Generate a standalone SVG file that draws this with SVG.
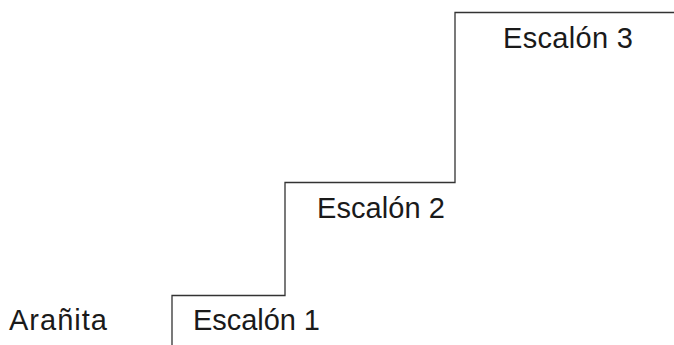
<svg xmlns="http://www.w3.org/2000/svg" width="674" height="345" viewBox="0 0 674 345">
<style>
text{font-family:"Liberation Sans",Arial,sans-serif;font-size:29px;fill:#1a1a1a}
.stair{fill:none;stroke:#333;stroke-width:1.3}
</style>
<rect width="674" height="345" fill="#fff"/>
<g id="connectors">
<path class="stair" d="M172 345 V295.5 H285 V182.5 H455 V12.5 H674"/>
</g>
<g id="aranita"><text x="9" y="330" textLength="98">Arañita</text></g>
<g id="escalon1"><text x="193" y="330" textLength="127">Escalón 1</text></g>
<g id="escalon2"><text x="317" y="218" textLength="128">Escalón 2</text></g>
<g id="escalon3"><text x="503" y="48" textLength="130">Escalón 3</text></g>
</svg>
